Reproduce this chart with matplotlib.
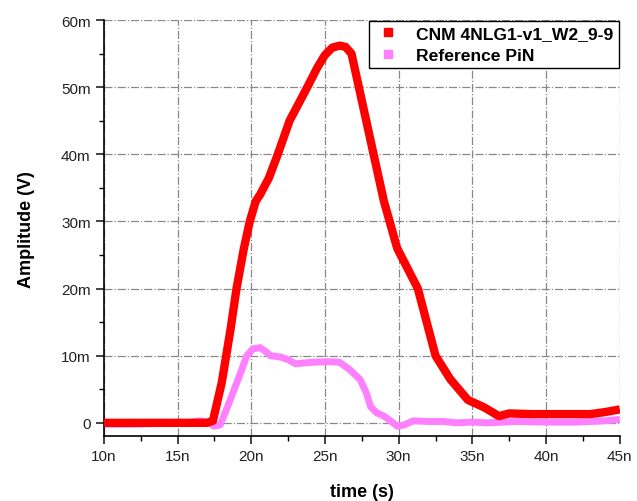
import matplotlib.pyplot as plt
from matplotlib.ticker import FuncFormatter, MultipleLocator

plt.rcParams['font.family'] = ['Liberation Sans', 'DejaVu Sans']

# time in ns, amplitude in mV
cnm_t = [10, 12, 14, 16, 17, 17.4, 18.0, 18.6, 19.0, 19.5, 19.9, 20.3, 20.6, 21.2, 21.8,
         22.2, 22.6, 23.2, 23.8, 24.5, 25.0, 25.5, 26.0, 26.4, 26.8, 27.3, 27.8, 28.3,
         29.0, 29.9, 30.6, 31.3, 31.9, 32.5, 33.5, 34.7, 35.8, 36.8, 37.5, 39, 41, 43,
         44, 45]
cnm_v = [0, 0, 0, 0, 0, 0.3, 6, 14, 20, 26, 30, 33, 34, 36.5, 40, 42.5, 45, 47.5,
         50, 53, 54.8, 55.9, 56.2, 56, 55, 50, 45, 40, 33, 26, 23, 20, 15, 10, 6.5, 3.4,
         2.3, 1.0, 1.4, 1.3, 1.3, 1.3, 1.6, 2.0]

pin_t = [10, 12, 14, 15.5, 16.5, 17.0, 17.5, 17.9, 18.5, 19.2, 19.7, 20.1, 20.6, 21.0,
         21.3, 22.0, 22.5, 23.0, 23.5, 24.0, 25.0, 25.5, 26.0, 26.7, 27.4, 27.8, 28.1,
         28.5, 29.0, 29.5, 29.9, 30.4, 31.0, 32, 33, 34, 35, 36, 38, 40, 42, 44, 45]
pin_v = [-0.2, -0.2, -0.1, -0.1, 0.3, 0.1, -0.5, -0.3, 3.0, 7.0, 10.0, 11.0, 11.2, 10.6,
         10.0, 9.8, 9.4, 8.8, 8.9, 9.0, 9.1, 9.1, 9.0, 7.9, 6.4, 4.5, 2.4, 1.5, 1.0,
         0.2, -0.5, -0.3, 0.3, 0.2, 0.2, 0.0, 0.1, 0.0, 0.2, 0.1, 0.1, 0.3, 0.5]

fig = plt.figure(figsize=(6.37, 5.02), dpi=100)
ax = fig.add_axes([0.163, 0.129, 0.81, 0.829])

ax.plot([t * 1e-9 for t in cnm_t], [v * 1e-3 for v in cnm_v], color='#ff0000', lw=6,
        solid_capstyle='butt', zorder=3)
ax.plot([t * 1e-9 for t in pin_t], [v * 1e-3 for v in pin_v], color='#ff80ff', lw=5,
        solid_capstyle='butt', zorder=2)

ax.set_xlim(10e-9, 45e-9)
ax.set_ylim(-2e-3, 60e-3)
ax.xaxis.set_major_locator(MultipleLocator(5e-9))
ax.xaxis.set_minor_locator(MultipleLocator(2.5e-9))
ax.yaxis.set_major_locator(MultipleLocator(10e-3))
ax.yaxis.set_minor_locator(MultipleLocator(5e-3))
ax.xaxis.set_major_formatter(FuncFormatter(lambda v, p: f"{round(v * 1e9)}n"))
ax.yaxis.set_major_formatter(FuncFormatter(lambda v, p: "0" if abs(v) < 1e-9 else f"{round(v * 1e3)}m"))

for side in ['top', 'right']:
    ax.spines[side].set_visible(False)
ax.spines['left'].set_linewidth(1.2)
ax.spines['bottom'].set_linewidth(1.2)
ax.tick_params(which='major', direction='out', length=6, width=1.2, labelsize=11, colors='#222222')
ax.tick_params(which='minor', direction='out', length=3.5, width=1.0)
ax.grid(True, which='major', color='#888888', linestyle='-.', linewidth=0.9)

ax.set_xlabel('time (s)', fontsize=13, fontweight='bold', labelpad=14)
ax.set_ylabel('Amplitude (V)', fontsize=13, fontweight='bold', labelpad=19)

h1, = ax.plot([], [], 's', color='#ff0000', markersize=6)
h2, = ax.plot([], [], 's', color='#ff80ff', markersize=6)
leg = ax.legend([h1, h2], ['CNM 4NLG1-v1_W2_9-9', 'Reference PiN'], loc='upper right',
                fancybox=False, edgecolor='black', framealpha=1,
                prop={'weight': 'bold', 'size': 12.6}, borderaxespad=0.05, handletextpad=0.8,
                handlelength=1.6, labelspacing=0.35, borderpad=0.3)
leg.get_frame().set_linewidth(1.0)

fig.savefig('out.png', dpi=100)
